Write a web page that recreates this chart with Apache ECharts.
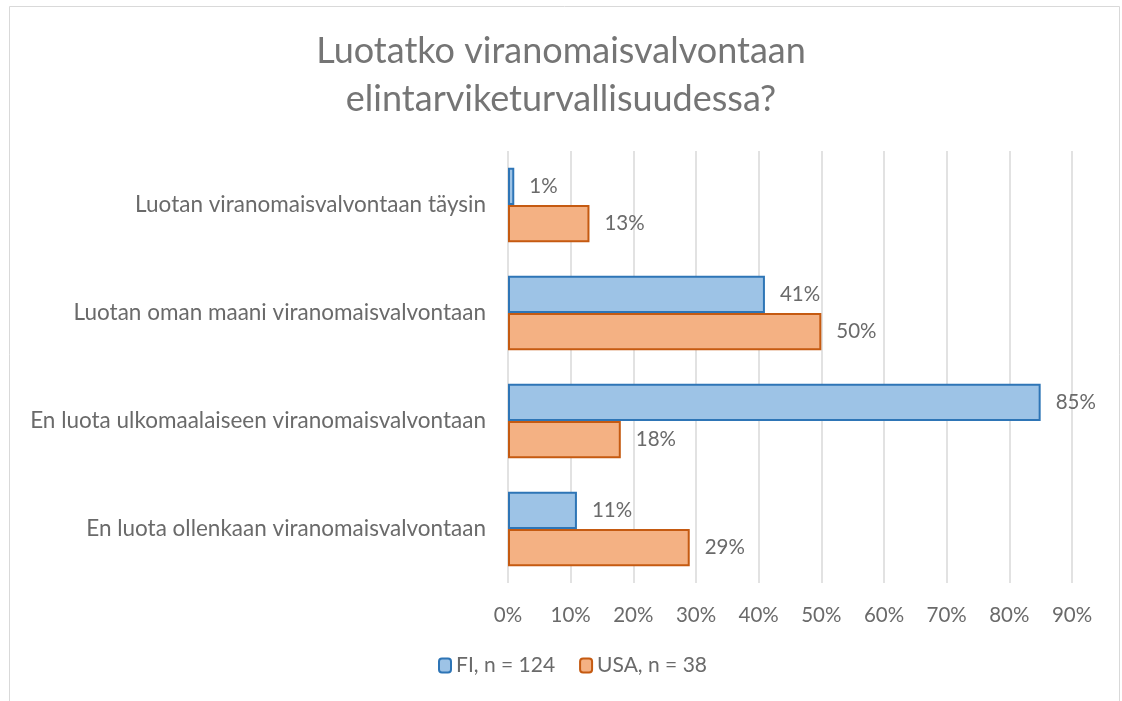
<!DOCTYPE html>
<html><head><meta charset="utf-8">
<script src="https://cdn.jsdelivr.net/npm/echarts@6/dist/echarts.min.js"></script>
<style>html,body{margin:0;padding:0;background:#fff}#c{width:1122px;height:701px}</style>
</head><body><div id="c"></div>
<script>
const titleText = 'Luotatko viranomaisvalvontaan\nelintarviketurvallisuudessa?';
const categories = [
  'Luotan viranomaisvalvontaan täysin',
  'Luotan oman maani viranomaisvalvontaan',
  'En luota ulkomaalaiseen viranomaisvalvontaan',
  'En luota ollenkaan viranomaisvalvontaan'
];
const seriesNames = ['FI, n = 124', 'USA, n = 38'];
const fiValues = [1, 41, 85, 11];
const usaValues = [13, 50, 18, 29];
const xTicks = [0, 10, 20, 30, 40, 50, 60, 70, 80, 90];

const font = 'Lato, "Open Sans", sans-serif';
const grey = '#6a6a6a';
const chart = echarts.init(document.getElementById('c'), null, {renderer: 'canvas'});
chart.setOption({
  animation: false,
  backgroundColor: '#fff',
  graphic: [{
    type: 'rect', shape: {x: 9.5, y: 6.5, width: 1110, height: 720},
    style: {fill: 'none', stroke: '#d9d9d9', lineWidth: 1}, silent: true
  }],
  title: {
    text: titleText, left: 'center', top: 22,
    textStyle: {fontFamily: font, fontSize: 36, fontWeight: 'normal', color: '#757575', lineHeight: 48}
  },
  legend: {
    bottom: 20, left: 433, itemWidth: 12, itemHeight: 14, itemGap: 24,
    textStyle: {fontFamily: font, fontSize: 21, color: grey},
    data: seriesNames
  },
  grid: {left: 508, right: 50, top: 151, bottom: 118, containLabel: false},
  xAxis: {
    type: 'value', min: 0, max: 90, interval: 10,
    axisLine: {show: false}, axisTick: {show: false},
    splitLine: {lineStyle: {color: '#d9d9d9', width: 1.5}},
    axisLabel: {formatter: v => v + '%', fontFamily: font, fontSize: 20.5, color: grey, margin: 22}
  },
  yAxis: {
    type: 'category', data: categories, inverse: true,
    axisLine: {show: false}, axisTick: {show: false},
    axisLabel: {fontFamily: font, fontSize: 22.5, color: grey, margin: 22}
  },
  series: [
    {
      name: seriesNames[0], type: 'bar', data: fiValues, barGap: '0%', barCategoryGap: '31%',
      itemStyle: {color: '#9dc3e6', borderColor: '#2e75b6', borderWidth: 2},
      label: {show: true, position: 'right', distance: 15, formatter: p => p.value + '%', fontFamily: font, fontSize: 20.5, color: grey}
    },
    {
      name: seriesNames[1], type: 'bar', data: usaValues, barGap: '0%', barCategoryGap: '31%',
      itemStyle: {color: '#f4b183', borderColor: '#c55a11', borderWidth: 2},
      label: {show: true, position: 'right', distance: 15, formatter: p => p.value + '%', fontFamily: font, fontSize: 20.5, color: grey}
    }
  ]
});
</script></body></html>
